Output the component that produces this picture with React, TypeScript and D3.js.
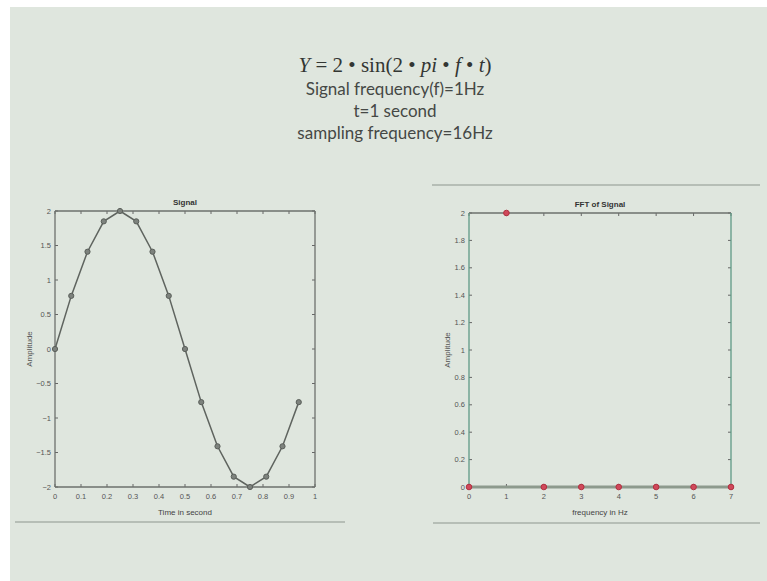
import React, { useRef, useEffect } from 'react';
import * as d3 from 'd3';

// sampled signal, 16 samples over 1 second
const signalTime = [0, 0.0625, 0.125, 0.1875, 0.25, 0.3125, 0.375, 0.4375, 0.5, 0.5625, 0.625, 0.6875, 0.75, 0.8125, 0.875, 0.9375];
const signalValue = [0, 0.77, 1.41, 1.85, 2, 1.85, 1.41, 0.77, 0, -0.77, -1.41, -1.85, -2, -1.85, -1.41, -0.77];
const signalXTicks = [0, 0.1, 0.2, 0.3, 0.4, 0.5, 0.6, 0.7, 0.8, 0.9, 1];
const signalYTicks = [-2, -1.5, -1, -0.5, 0, 0.5, 1, 1.5, 2];

// FFT magnitudes
const fftFreq = [0, 1, 2, 3, 4, 5, 6, 7];
const fftMag = [0, 2, 0, 0, 0, 0, 0, 0];
const fftYTicks = [0, 0.2, 0.4, 0.6, 0.8, 1, 1.2, 1.4, 1.6, 1.8, 2];

const infoLines = ['Signal frequency(f)=1Hz', 't=1 second', 'sampling frequency=16Hz'];

const App = () => {
  const ref = useRef(null);

  useEffect(() => {
    if (!ref.current) return;
    d3.select(ref.current).select('svg').remove();

    const svg = d3.select(ref.current)
      .append('svg')
      .attr('width', 767)
      .attr('height', 581)
      .style('display', 'block');

    svg.append('rect').attr('width', 767).attr('height', 581).attr('fill', '#ffffff');
    svg.append('rect').attr('x', 10).attr('y', 7).attr('width', 757).attr('height', 574).attr('fill', '#dfe6de');

    // header
    const eq = svg.append('text')
      .attr('x', 395).attr('y', 72)
      .attr('text-anchor', 'middle')
      .attr('font-family', '"Liberation Serif", "DejaVu Serif", serif')
      .attr('font-size', 21)
      .attr('fill', '#333633');
    const parts: [string, boolean][] = [['Y', true], [' = 2 • sin(2 • ', false], ['pi', true], [' • ', false], ['f', true], [' • ', false], ['t', true], [')', false]];
    parts.forEach(([s, it]) => {
      eq.append('tspan').attr('font-style', it ? 'italic' : 'normal').text(s);
    });

    svg.selectAll('text.info')
      .data(infoLines)
      .join('text')
      .attr('class', 'info')
      .attr('x', 395)
      .attr('y', (d, i) => 95 + i * 22)
      .attr('text-anchor', 'middle')
      .attr('font-family', 'Lato, "Open Sans", sans-serif')
      .attr('font-size', 17)
      .attr('fill', '#454845')
      .text(d => d);

    // separator lines
    const sep = [[432, 760, 185], [15, 345, 522], [433, 760, 523]];
    sep.forEach(([a, b, y]) => {
      svg.append('line').attr('x1', a).attr('x2', b).attr('y1', y).attr('y2', y)
        .attr('stroke', '#a9b0a8').attr('stroke-width', 1.5);
    });

    const tickFont = 'Liberation Sans, Arial, sans-serif';

    const drawAxes = (g, x, y, xTicks, yTicks, fmtX, fmtY, title, xLabel, boxColor) => {
      const [x0, x1] = x.range();
      const [y0, y1] = y.range();
      // ticks inside on all sides
      xTicks.forEach(t => {
        g.append('line').attr('x1', x(t)).attr('x2', x(t)).attr('y1', y0).attr('y2', y0 - 3).attr('stroke', '#666');
        g.append('line').attr('x1', x(t)).attr('x2', x(t)).attr('y1', y1).attr('y2', y1 + 3).attr('stroke', '#666');
        g.append('text').attr('x', x(t)).attr('y', y0 + 12).attr('text-anchor', 'middle')
          .attr('font-family', tickFont).attr('font-size', 7.5).attr('fill', '#555').text(fmtX(t));
      });
      yTicks.forEach(t => {
        g.append('line').attr('x1', x0).attr('x2', x0 + 3).attr('y1', y(t)).attr('y2', y(t)).attr('stroke', '#666');
        g.append('line').attr('x1', x1).attr('x2', x1 - 3).attr('y1', y(t)).attr('y2', y(t)).attr('stroke', '#666');
        g.append('text').attr('x', x0 - 4).attr('y', y(t) + 2.5).attr('text-anchor', 'end')
          .attr('font-family', tickFont).attr('font-size', 7.5).attr('fill', '#555').text(fmtY(t));
      });
      g.append('line').attr('x1', x0).attr('x2', x1).attr('y1', y1).attr('y2', y1).attr('stroke', '#6d716d').attr('stroke-width', 1.3);
      g.append('line').attr('x1', x0).attr('x2', x1).attr('y1', y0).attr('y2', y0).attr('stroke', '#6d716d').attr('stroke-width', 1.3);
      g.append('line').attr('x1', x0).attr('x2', x0).attr('y1', y0).attr('y2', y1).attr('stroke', boxColor).attr('stroke-width', 1.3);
      g.append('line').attr('x1', x1).attr('x2', x1).attr('y1', y0).attr('y2', y1).attr('stroke', boxColor).attr('stroke-width', 1.3);
      g.append('text').attr('x', (x0 + x1) / 2).attr('y', y1 - 6).attr('text-anchor', 'middle')
        .attr('font-family', tickFont).attr('font-size', 8).attr('font-weight', 'bold').attr('fill', '#333').text(title);
      g.append('text').attr('x', (x0 + x1) / 2).attr('y', y0 + 28).attr('text-anchor', 'middle')
        .attr('font-family', tickFont).attr('font-size', 8).attr('fill', '#444').text(xLabel);
      return g;
    };

    // left chart
    const xS = d3.scaleLinear().domain([0, 1]).range([55, 315]);
    const yS = d3.scaleLinear().domain([-2, 2]).range([487, 211]);
    const gL = svg.append('g');
    drawAxes(gL, xS, yS, signalXTicks, signalYTicks, d3.format('~g'), d3.format('~g'), 'Signal', 'Time in second', '#6d716d');
    gL.append('text').attr('transform', `translate(32,349) rotate(-90)`).attr('text-anchor', 'middle')
      .attr('font-family', tickFont).attr('font-size', 8).attr('fill', '#555').text('Amplitude');

    const sigData = signalTime.map((t, i) => ({ t, v: signalValue[i] }));
    gL.append('path')
      .datum(sigData)
      .attr('fill', 'none')
      .attr('stroke', '#5f645f')
      .attr('stroke-width', 1.5)
      .attr('d', d3.line().x(d => xS(d.t)).y(d => yS(d.v)));
    gL.selectAll('circle')
      .data(sigData)
      .join('circle')
      .attr('cx', d => xS(d.t))
      .attr('cy', d => yS(d.v))
      .attr('r', 2.6)
      .attr('fill', '#7d827d')
      .attr('stroke', '#5a5f5a');

    // right chart
    const xF = d3.scaleLinear().domain([0, 7]).range([469, 731]);
    const yF = d3.scaleLinear().domain([0, 2]).range([487, 213]);
    const gR = svg.append('g');
    drawAxes(gR, xF, yF, fftFreq, fftYTicks, d3.format('~g'), d3.format('~g'), 'FFT of Signal', 'frequency in Hz', '#5f9a86');
    gR.append('text').attr('transform', `translate(450,350) rotate(-90)`).attr('text-anchor', 'middle')
      .attr('font-family', tickFont).attr('font-size', 8).attr('fill', '#555').text('Amplitude');
    gR.append('line').attr('x1', xF(0)).attr('x2', xF(7)).attr('y1', yF(0)).attr('y2', yF(0))
      .attr('stroke', '#8d9a8d').attr('stroke-width', 3);
    gR.selectAll('circle')
      .data(fftFreq.map((f, i) => ({ f, m: fftMag[i] })))
      .join('circle')
      .attr('cx', d => xF(d.f))
      .attr('cy', d => yF(d.m))
      .attr('r', 2.8)
      .attr('fill', '#d0485a')
      .attr('stroke', '#b03040');
  }, []);

  return <div ref={ref} style={{ position: 'absolute', left: 0, top: 0 }}></div>;
};

export default App;
